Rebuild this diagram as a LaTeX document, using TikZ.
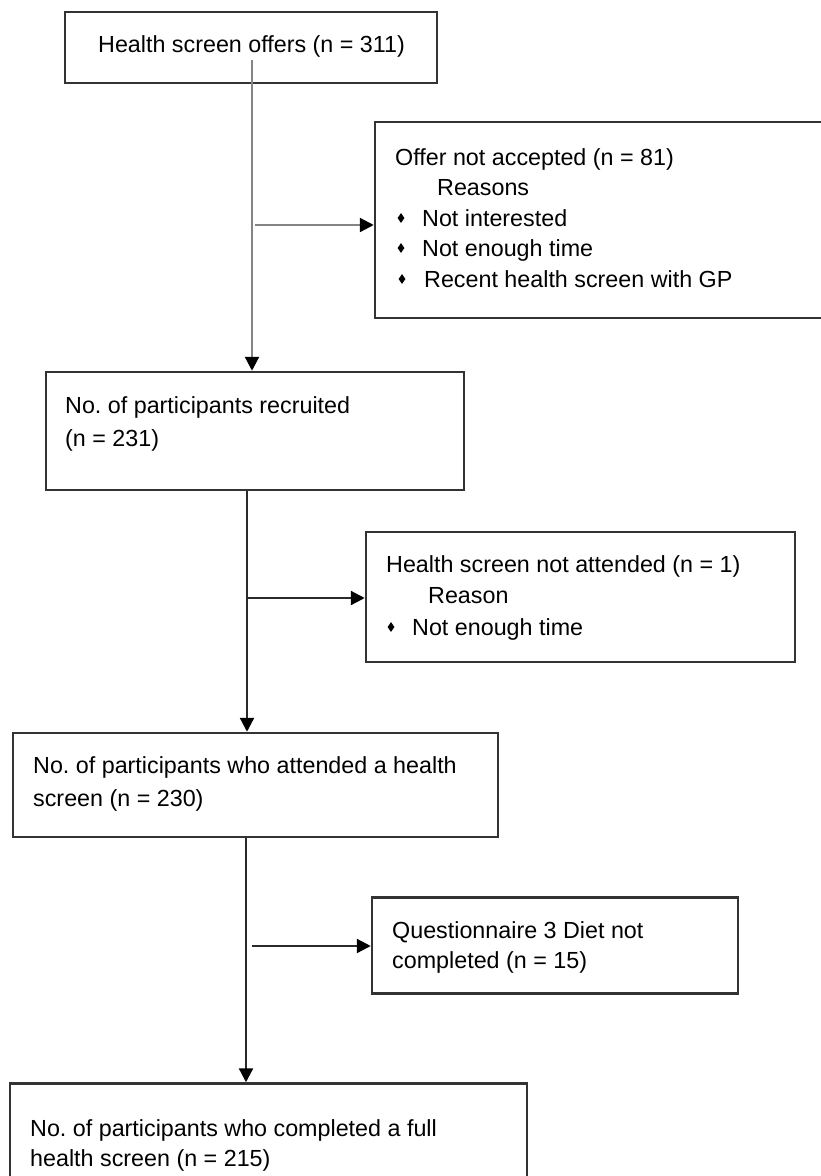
\documentclass[tikz,border=0pt]{standalone}
\usepackage{fontspec}
\setmainfont{Liberation Sans}
\usetikzlibrary{arrows.meta,shapes.geometric}
\definecolor{boxc}{HTML}{333333}
\definecolor{linec}{HTML}{2A2A2A}
\definecolor{grayline}{HTML}{858585}
\tikzset{
  box/.style={draw=boxc, line width=2.5pt, fill=white, inner sep=0pt},
  txt/.style={anchor=base west, inner sep=0pt, font=\fontsize{23.3}{28}\selectfont, text=black},
  bul/.style={diamond, fill=black, inner sep=0pt, minimum width=7pt, minimum height=10pt},
  arr/.style={draw=linec, line width=2.3pt, -{Triangle[length=14pt,width=14pt,color=black]}},
  garr/.style={draw=grayline, line width=2.3pt, -{Triangle[length=14pt,width=14pt,color=black]}}
}
\frenchspacing
\begin{document}
\begin{tikzpicture}[x=1pt,y=-1pt]
\useasboundingbox (0,0) rectangle (821,1176);
\fill[white] (0,0) rectangle (821,1176);
\clip (0,0) rectangle (821,1176);
% boxes
\node[box, minimum width=372pt, minimum height=71pt] (b1) at (251,47.5) {};
\node[box, minimum width=455pt, minimum height=196pt] (b2) at (602.5,220) {};
\node[box, minimum width=418pt, minimum height=118pt] (b3) at (255,431) {};
\node[box, minimum width=429pt, minimum height=130pt] (b4) at (580.5,597) {};
\node[box, minimum width=485pt, minimum height=104pt] (b5) at (255.5,785) {};
\node[box, minimum width=366pt, minimum height=96pt] (b6) at (555,945.5) {};
\node[box, minimum width=517pt, minimum height=117pt] (b7) at (268.5,1142) {};
% texts
\node[txt] (t1) at (98,52) {Health screen offers (n = 311)};
\node[txt] (t2a) at (395,165) {Offer not accepted (n = 81)};
\node[txt] (t2b) at (437,195) {Reasons};
\node[bul] (u2c) at (401,218) {};
\node[txt] (t2c) at (422,226) {Not interested};
\node[bul] (u2d) at (401,248) {};
\node[txt] (t2d) at (422,256) {Not enough time};
\node[bul] (u2e) at (402,279) {};
\node[txt] (t2e) at (424,287) {Recent health screen with GP};
\node[txt] (t3a) at (65,413) {No. of participants recruited};
\node[txt] (t3b) at (65,446) {(n = 231)};
\node[txt] (t4a) at (386,572) {Health screen not attended (n = 1)};
\node[txt] (t4b) at (428,603) {Reason};
\node[bul] (u4c) at (391,627) {};
\node[txt] (t4c) at (412,635) {Not enough time};
\node[txt] (t5a) at (33,773) {No. of participants who attended a health};
\node[txt] (t5b) at (33,806) {screen (n = 230)};
\node[txt] (t6a) at (392,938) {Questionnaire 3 Diet not};
\node[txt] (t6b) at (392,968) {completed (n = 15)};
\node[txt] (t7a) at (30,1136) {No. of participants who completed a full};
\node[txt] (t7b) at (30,1166) {health screen (n = 215)};
% connectors
\coordinate (s1) at (252,60);
\draw[garr] (s1) -- (s1 |- b3.north);
\coordinate (h1) at (255,225);
\draw[garr] (h1) -- (h1 -| b2.west);
\coordinate (v2) at (247,490);
\draw[arr] (v2 |- b3.south) -- (v2 |- b5.north);
\coordinate (h2) at (247,598);
\draw[arr] (h2) -- (h2 -| b4.west);
\coordinate (v3) at (246,837);
\draw[arr] (v3 |- b5.south) -- (v3 |- b7.north);
\coordinate (h3) at (252,946);
\draw[arr] (h3) -- (h3 -| b6.west);
\end{tikzpicture}
\end{document}
